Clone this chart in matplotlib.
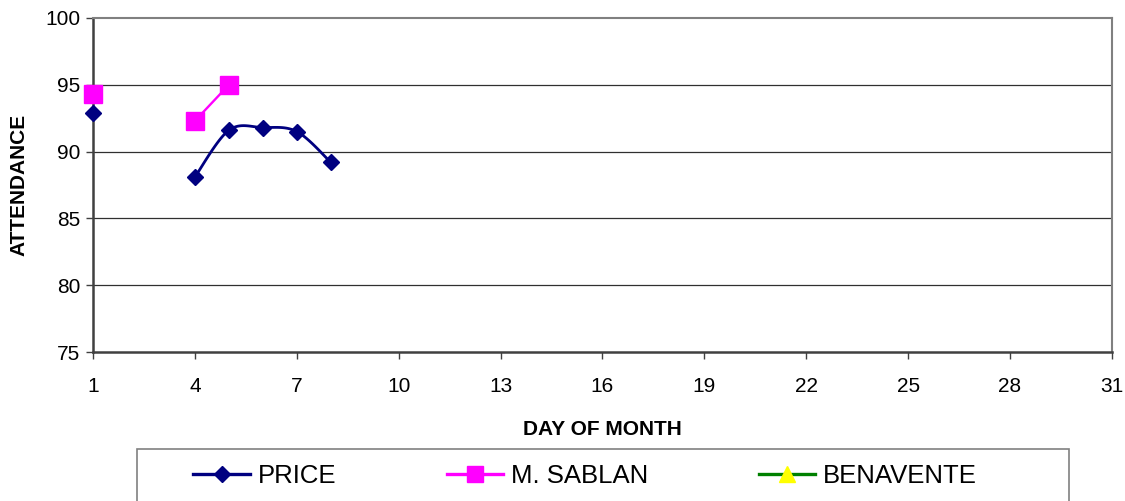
import numpy as np
import matplotlib
matplotlib.use("Agg")
import matplotlib.pyplot as plt
from matplotlib.patches import Rectangle
from matplotlib.lines import Line2D

plt.rcParams['font.family'] = ['Liberation Sans', 'DejaVu Sans']

# data (NaN = no value that day)
days = [1, 2, 3, 4, 5, 6, 7, 8]
price = [92.9, np.nan, np.nan, 88.1, 91.6, 91.8, 91.5, 89.2]
sablan_days = [1, 2, 3, 4, 5]
sablan = [94.3, np.nan, np.nan, 92.3, 95.0]
benavente_days = []
benavente = []
x_ticks = list(range(1, 32, 3))
y_ticks = [75, 80, 85, 90, 95, 100]


def smooth(xs, ys, n=20):
    # Excel-style smoothed line (cardinal bezier) over a run of points
    xs = np.asarray(xs, float)
    ys = np.asarray(ys, float)
    if len(xs) < 3:
        return xs, ys
    px, py = [], []
    for i in range(len(xs) - 1):
        i0 = max(i - 1, 0)
        i3 = min(i + 2, len(xs) - 1)
        c1x = xs[i] + (xs[i + 1] - xs[i0]) / 6
        c1y = ys[i] + (ys[i + 1] - ys[i0]) / 6
        c2x = xs[i + 1] - (xs[i3] - xs[i]) / 6
        c2y = ys[i + 1] - (ys[i3] - ys[i]) / 6
        t = np.linspace(0, 1, n)
        bx = (1-t)**3*xs[i] + 3*(1-t)**2*t*c1x + 3*(1-t)*t**2*c2x + t**3*xs[i+1]
        by = (1-t)**3*ys[i] + 3*(1-t)**2*t*c1y + 3*(1-t)*t**2*c2y + t**3*ys[i+1]
        px.extend(bx)
        py.extend(by)
    return np.array(px), np.array(py)


def runs(xs, ys):
    out, cur = [], []
    for x, y in zip(xs, ys):
        if np.isnan(y):
            if cur:
                out.append(cur)
            cur = []
        else:
            cur.append((x, y))
    if cur:
        out.append(cur)
    return out


fig = plt.figure(figsize=(11.25, 5.01), dpi=100)
ax = fig.add_axes([0.0827, 0.2974, 0.9057, 0.6667])

navy = '#000080'
magenta = '#FF00FF'

for r in runs(days, price):
    sx, sy = smooth([p[0] for p in r], [p[1] for p in r])
    ax.plot(sx, sy, color=navy, lw=2.0, zorder=3)
ax.plot(days, price, ls='none', marker='D', ms=8.5, color=navy, zorder=4, clip_on=False)

for r in runs(sablan_days, sablan):
    ax.plot([p[0] for p in r], [p[1] for p in r], color=magenta, lw=1.7, zorder=3)
ax.plot(sablan_days, sablan, ls='none', marker='s', ms=13.5, color=magenta, zorder=4,
        clip_on=False)

ax.plot(benavente_days, benavente, color='#008000', marker='^', mfc='#FFFF00',
        mec='#FFFF00', lw=1.8)

ax.set_xlim(1, 31)
ax.set_ylim(75, 100)
ax.set_xticks(x_ticks)
ax.set_yticks(y_ticks)
ax.tick_params(labelsize=15, direction='out', length=5, width=1, color='#404040')
ax.tick_params(axis='x', pad=13)
ax.tick_params(axis='y', pad=4)
for y in y_ticks[1:-1]:
    ax.axhline(y, color='#303030', lw=0.9, zorder=1)

for s in ['top', 'right']:
    ax.spines[s].set_color('#808080')
    ax.spines[s].set_linewidth(1.5)
for s in ['left', 'bottom']:
    ax.spines[s].set_color('#404040')
    ax.spines[s].set_linewidth(1.8)

ax.set_xlabel('DAY OF MONTH', fontsize=15, fontweight='bold')
ax.set_ylabel('ATTENDANCE', fontsize=15, fontweight='bold')
ax.xaxis.set_label_coords(0.5, -0.205)
ax.yaxis.set_label_coords(-0.063, 0.5)

# legend box, running off the bottom edge
fig.patches.append(Rectangle((0.1218, -0.05), 0.8284, 0.1538, transform=fig.transFigure,
                             fill=False, edgecolor='#808080', lw=1.2))
handles = [
    Line2D([], [], color=navy, lw=2.4, marker='D', ms=8),
    Line2D([], [], color=magenta, lw=2.4, marker='s', ms=12),
    Line2D([], [], color='#008000', lw=2.4, marker='^', ms=11, mfc='#FFFF00', mec='#FFFF00'),
]
fig.legend(handles, ['PRICE', 'M. SABLAN', 'BENAVENTE'], loc='center left',
           bbox_to_anchor=(0.1605, 0.05), ncol=3, frameon=False, fontsize=18.5,
           handlelength=2.2, handletextpad=0.3, columnspacing=4.3, borderpad=0)

fig.savefig('out.png', dpi=100)
